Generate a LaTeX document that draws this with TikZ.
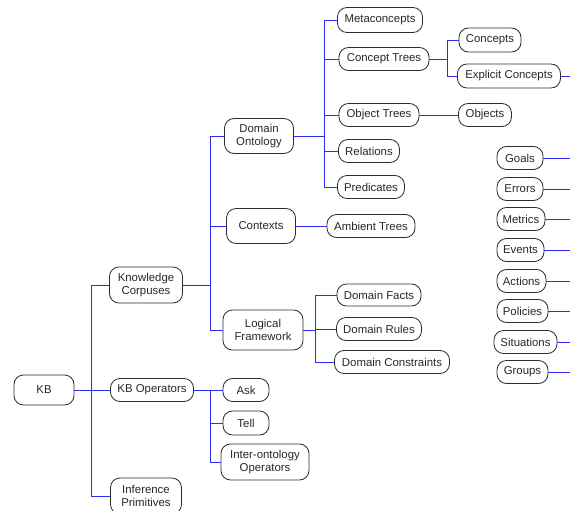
\documentclass[tikz,border=0pt]{standalone}
\usepackage{fontspec}
\setmainfont{Liberation Sans}
\definecolor{linkblue}{RGB}{45,45,235}
\definecolor{boxline}{RGB}{45,45,45}
\definecolor{boxtext}{RGB}{40,40,40}
\begin{document}
\begin{tikzpicture}[x=1pt,y=-1pt,
  box/.style={draw=boxline, line width=0.8pt, rounded corners=9.5pt, fill=white,
    text=boxtext, font=\fontsize{11.4}{13.5}\selectfont, align=center,
    inner sep=0pt, minimum height=23pt},
  conn/.style={color=linkblue, line width=0.9pt}]
\useasboundingbox (0,0) rectangle (570,511);
% nodes
\node[box, minimum width=60pt, minimum height=30pt] (KB) at (44,390) {KB};
\node[box, minimum width=73pt, minimum height=36pt] (KC) at (146,285) {Knowledge\\Corpuses};
\node[box, minimum width=83pt] (KBO) at (152,390) {KB Operators};
\node[box, minimum width=71pt, minimum height=36pt] (IP) at (146,496) {Inference\\Primitives};
\node[box, minimum width=69pt, minimum height=35pt] (DO) at (259,136) {Domain\\Ontology};
\node[box, minimum width=69pt, minimum height=35pt] (CX) at (261,226) {Contexts};
\node[box, minimum width=80pt, minimum height=40pt] (LF) at (263,330) {Logical\\Framework};
\node[box, minimum width=85pt, minimum height=25pt] (MC) at (380,20) {Metaconcepts};
\node[box, minimum width=90pt] (CT) at (384,59) {Concept Trees};
\node[box, minimum width=80pt] (OT) at (379,115) {Object Trees};
\node[box, minimum width=61pt] (RE) at (369,151) {Relations};
\node[box, minimum width=67pt] (PR) at (371,187) {Predicates};
\node[box, minimum width=62pt, minimum height=24pt] (CO) at (490,40) {Concepts};
\node[box, minimum width=103pt, minimum height=24pt] (EC) at (509,76) {Explicit Concepts};
\node[box, minimum width=53pt] (OB) at (485,115) {Objects};
\node[box, minimum width=88pt] (AT) at (371,226) {Ambient Trees};
\node[box, minimum width=84pt, minimum height=22pt] (DF) at (379,295) {Domain Facts};
\node[box, minimum width=85pt] (DR) at (379,329) {Domain Rules};
\node[box, minimum width=115pt] (DC) at (392,362) {Domain Constraints};
\node[box, minimum width=46pt] (ASK) at (246,390) {Ask};
\node[box, minimum width=46pt, minimum height=24pt] (TELL) at (246,423) {Tell};
\node[box, minimum width=88pt, minimum height=36pt] (IO) at (265,462) {Inter-ontology\\Operators};
\node[box, minimum width=46pt] (GO) at (520,158) {Goals};
\node[box, minimum width=46pt] (ER) at (520,189) {Errors};
\node[box, minimum width=48pt] (ME) at (521,219) {Metrics};
\node[box, minimum width=47pt] (EV) at (520.5,250) {Events};
\node[box, minimum width=49pt] (AC) at (521.5,281) {Actions};
\node[box, minimum width=51pt] (PO) at (522.5,311) {Policies};
\node[box, minimum width=63pt] (SI) at (525.5,342) {Situations};
\node[box, minimum width=51pt] (GR) at (522.5,372) {Groups};
% free ends at right edge
\coordinate (EC-end) at (570,76);
\coordinate (GO-end) at (570,158);
\coordinate (ER-end) at (570,189);
\coordinate (ME-end) at (570,219);
\coordinate (EV-end) at (570,250);
\coordinate (AC-end) at (570,281);
\coordinate (PO-end) at (570,311);
\coordinate (SI-end) at (570,342);
\coordinate (GR-end) at (570,372);
% connectors
\draw[conn] (KB.east) -- ++(17,0) |- (KC.west);
\draw[conn] (KB.east) -- ++(17,0) |- (IP.west);
\draw[conn] (KB.east) -- (KBO.west);
\draw[conn] (KC.east) -- ++(28,0) |- (DO.west);
\draw[conn] (KC.east) -- ++(28,0) |- (CX.west);
\draw[conn] (KC.east) -- ++(28,0) |- (LF.west);
\draw[conn] (DO.east) -- ++(31,0) |- (MC.west);
\draw[conn] (DO.east) -- ++(31,0) |- (CT.west);
\draw[conn] (DO.east) -- ++(31,0) |- (OT.west);
\draw[conn] (DO.east) -- ++(31,0) |- (RE.west);
\draw[conn] (DO.east) -- ++(31,0) |- (PR.west);
\draw[conn] (CT.east) -- ++(18,0) |- (CO.west);
\draw[conn] (CT.east) -- ++(18,0) |- (EC.west);
\draw[conn] (OT.east) -- (OB.west);
\draw[conn] (CX.east) -- (AT.west);
\draw[conn] (LF.east) -- ++(12,0) |- (DF.west);
\draw[conn] (LF.east) -- ++(12,0) |- (DR.west);
\draw[conn] (LF.east) -- ++(12,0) |- (DC.west);
\draw[conn] (KBO.east) -- (ASK.west);
\draw[conn] (KBO.east) -- ++(17,0) |- (TELL.west);
\draw[conn] (KBO.east) -- ++(17,0) |- (IO.west);
\draw[conn] (EC.east) -- (EC-end);
\draw[conn] (GO.east) -- (GO-end);
\draw[conn] (ER.east) -- (ER-end);
\draw[conn] (ME.east) -- (ME-end);
\draw[conn] (EV.east) -- (EV-end);
\draw[conn] (AC.east) -- (AC-end);
\draw[conn] (PO.east) -- (PO-end);
\draw[conn] (SI.east) -- (SI-end);
\draw[conn] (GR.east) -- (GR-end);
\end{tikzpicture}
\end{document}
